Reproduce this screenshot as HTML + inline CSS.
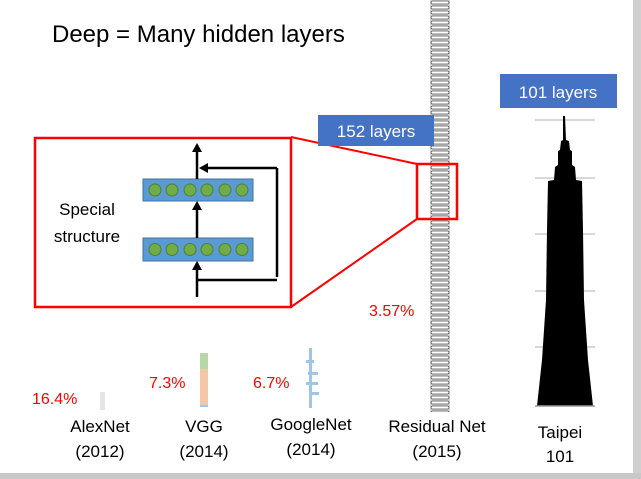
<!DOCTYPE html>
<html><head><style>
html,body{margin:0;padding:0;background:#fff;}
svg{display:block;font-family:"Liberation Sans",sans-serif;}
</style></head><body>
<svg width="641" height="479" viewBox="0 0 641 479" xmlns="http://www.w3.org/2000/svg">
<defs>
<marker id="ar" markerWidth="10" markerHeight="10" refX="7" refY="5" orient="auto" markerUnits="userSpaceOnUse"><path d="M0,0 L9,5 L0,10 z" fill="#000"/></marker>
<pattern id="res" x="430" y="0" width="20" height="5" patternUnits="userSpaceOnUse">
<rect width="20" height="5" fill="#d8d8d8"/>
<rect x="1" y="1" width="18" height="3" rx="1.5" fill="#fff" stroke="#555" stroke-width="0.8"/>
</pattern>
</defs>
<rect width="641" height="479" fill="#fff"/>
<rect x="633" y="0" width="8" height="479" fill="#d0d0d0"/>
<rect x="0" y="473" width="641" height="6" fill="#c8c8c8"/>
<text x="52" y="42" font-size="24" fill="#000">Deep = Many hidden layers</text>

<rect x="430" y="0" width="20" height="412" fill="url(#res)"/>

<line x1="291" y1="137" x2="417" y2="164" stroke="#f00" stroke-width="2"/>
<line x1="291" y1="307" x2="417" y2="219" stroke="#f00" stroke-width="2"/>
<rect x="417" y="164" width="40" height="55" fill="none" stroke="#f00" stroke-width="2.5"/>

<rect x="35" y="138" width="256" height="169" fill="#fff" stroke="#f00" stroke-width="2.5"/>
<text x="87" y="215" font-size="17" text-anchor="middle">Special</text>
<text x="87" y="242" font-size="17" text-anchor="middle">structure</text>
<rect x="143" y="179" width="110" height="22" fill="#5b9bd5" stroke="#41719c" stroke-width="1"/>
<rect x="143" y="238" width="110" height="23" fill="#5b9bd5" stroke="#41719c" stroke-width="1"/>
<g fill="#70ad47" stroke="#507e32" stroke-width="1">
<circle cx="155" cy="190" r="6"/><circle cx="172" cy="190" r="6"/><circle cx="190" cy="190" r="6"/><circle cx="207" cy="190" r="6"/><circle cx="225" cy="190" r="6"/><circle cx="242" cy="190" r="6"/>
<circle cx="155" cy="249.5" r="6"/><circle cx="172" cy="249.5" r="6"/><circle cx="190" cy="249.5" r="6"/><circle cx="207" cy="249.5" r="6"/><circle cx="225" cy="249.5" r="6"/><circle cx="242" cy="249.5" r="6"/>
</g>
<g stroke="#000" stroke-width="2.5" fill="none">
<line x1="197" y1="297" x2="197" y2="263" marker-end="url(#ar)"/>
<line x1="197" y1="238" x2="197" y2="203" marker-end="url(#ar)"/>
<line x1="197" y1="179" x2="197" y2="145" marker-end="url(#ar)"/>
<polyline points="197,280 277,280"/>
<line x1="277" y1="168" x2="277" y2="277"/>
<line x1="277" y1="168" x2="201" y2="168" marker-end="url(#ar)"/>
</g>

<rect x="318" y="115" width="116" height="31" fill="#4472c4"/>
<text x="376" y="137" font-size="17" fill="#fff" text-anchor="middle">152 layers</text>
<rect x="500" y="74" width="117" height="34" fill="#4472c4"/>
<text x="558" y="98" font-size="17" fill="#fff" text-anchor="middle">101 layers</text>

<g stroke="#ccc" stroke-width="1.5">
<line x1="535" y1="120" x2="595" y2="120"/><line x1="535" y1="178" x2="595" y2="178"/><line x1="535" y1="234" x2="595" y2="234"/><line x1="535" y1="291" x2="595" y2="291"/><line x1="535" y1="347" x2="595" y2="347"/>
</g>
<path d="M563,116 L565,116 L566,140 L569,141 L570,150 L572,151 L572,165 L575,167 L576,180 L582,181 L583,230 L584,300 L588,360 L593,406 L537,406 L542,360 L546,300 L547,230 L548,181 L554,180 L555,167 L558,165 L558,151 L560,150 L561,141 L563,140 z" fill="#000"/>
<line x1="535" y1="406" x2="595" y2="406" stroke="#999" stroke-width="1.5"/>

<rect x="100" y="392" width="5" height="18" fill="#e4e4e4"/>
<rect x="200" y="353" width="8" height="16" fill="#b6d7a8"/>
<rect x="200" y="369" width="8" height="36" fill="#f4c7a8"/>
<rect x="200" y="405" width="8" height="2" fill="#9fc5e8"/>
<g fill="#9fc5e8">
<rect x="309" y="348" width="3" height="60"/><rect x="306" y="360" width="8" height="3"/><rect x="308" y="372" width="10" height="3"/><rect x="306" y="382" width="12" height="3"/><rect x="309" y="392" width="10" height="3"/>
</g>

<g font-size="16" fill="#f00">
<text x="32" y="404">16.4%</text>
<text x="149" y="388">7.3%</text>
<text x="253" y="388">6.7%</text>
<text x="369" y="316">3.57%</text>
</g>
<g font-size="17" fill="#000" text-anchor="middle">
<text x="100" y="432">AlexNet</text><text x="100" y="457">(2012)</text>
<text x="204" y="432">VGG</text><text x="204" y="457">(2014)</text>
<text x="311" y="430">GoogleNet</text><text x="311" y="455">(2014)</text>
<text x="437" y="432">Residual Net</text><text x="437" y="457">(2015)</text>
<text x="560" y="438">Taipei</text><text x="560" y="462">101</text>
</g>
</svg>
</body></html>
